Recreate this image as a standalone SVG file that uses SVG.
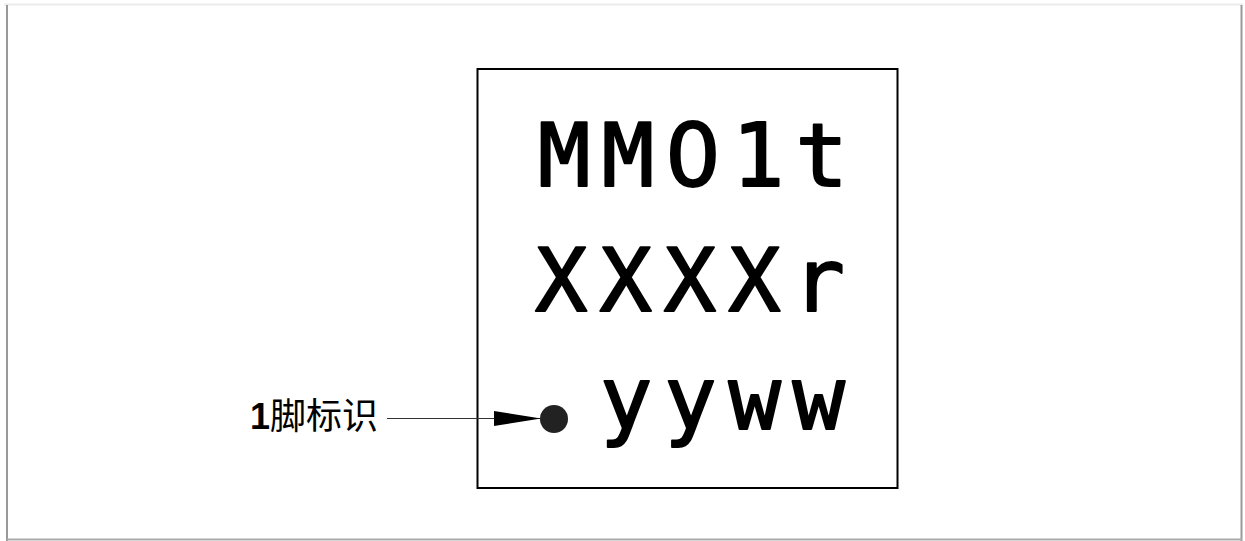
<svg xmlns="http://www.w3.org/2000/svg" width="1245" height="541" viewBox="0 0 1245 541">
<style>
.mark{font-family:"DejaVu Sans Mono","Liberation Mono",monospace;font-size:87px;fill:#000;stroke:#000;stroke-width:2;stroke-linejoin:round;stroke-linecap:round}
.lbl{font-family:"Liberation Sans","Noto Sans CJK SC",sans-serif;font-size:36px;fill:#000}
</style>
<defs>
<marker id="ah" markerWidth="48" markerHeight="16" refX="47" refY="7.5" orient="auto" markerUnits="userSpaceOnUse">
<path d="M0,0 L47,7.5 L0,15 Z" fill="#000"/>
</marker>
</defs>
<rect x="0" y="0" width="1245" height="541" fill="#fff"/>
<g id="page">
<line x1="4" y1="4.5" x2="1243" y2="4.5" stroke="#ececec" stroke-width="2"/>
<line x1="7" y1="5" x2="7" y2="541" stroke="#999" stroke-width="2"/>
<line x1="1241.5" y1="5" x2="1241.5" y2="541" stroke="#999" stroke-width="2"/>
<line x1="7" y1="539.5" x2="1242" y2="539.5" stroke="#aaa" stroke-width="2"/>
</g>
<g id="chip">
<rect x="477.5" y="69" width="420" height="419" fill="none" stroke="#000" stroke-width="2"/>
<text class="mark" x="538" y="186" textLength="310" lengthAdjust="spacing">MM<tspan font-family="DejaVu Sans">0</tspan>1t</text>
<text class="mark" x="535" y="311" textLength="310" lengthAdjust="spacing">XXXXr</text>
<text class="mark" x="600" y="429" textLength="245" lengthAdjust="spacing">yyww</text>
<circle cx="554" cy="419" r="14" fill="#222"/>
</g>
<g id="label">
<text class="lbl" x="250" y="429"><tspan font-weight="bold">1</tspan>脚标识</text>
</g>
<g id="connectors">
<line x1="387" y1="418.5" x2="541" y2="418.5" stroke="#333" stroke-width="1" marker-end="url(#ah)"/>
</g>
</svg>
